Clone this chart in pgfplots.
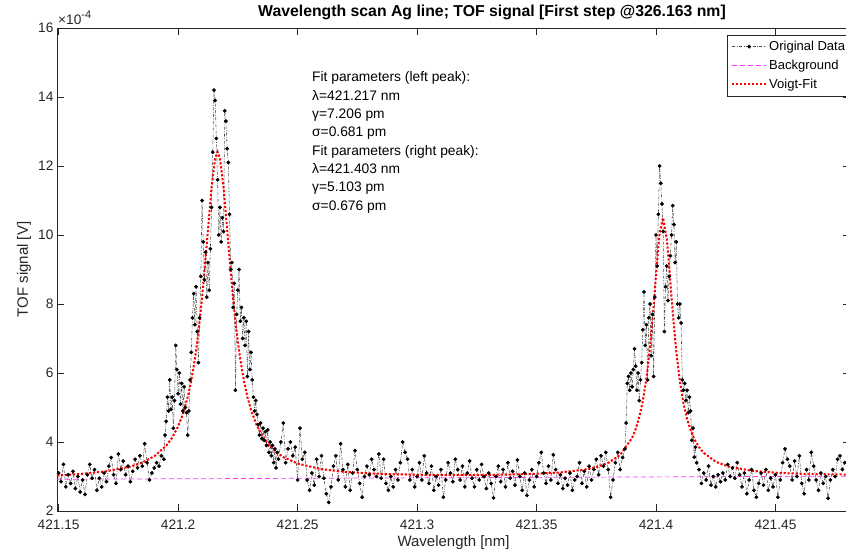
\documentclass[border=0pt]{standalone}
\usepackage{fontspec}
\setmainfont{Liberation Sans}
\usepackage{pgfplots}
\usepackage{pgfplotstable}
\pgfplotsset{compat=1.18}
\definecolor{axgray}{rgb}{0.15,0.15,0.15}
\definecolor{bgmag}{rgb}{1,0.2,1}

\pgfplotstableread{
x y
421.149 2.45
421.150 3.10
421.151 2.85
421.152 3.35
421.153 2.70
421.154 3.05
421.155 2.80
421.156 3.15
421.157 2.65
421.158 3.00
421.159 2.55
421.160 2.90
421.161 2.48
421.162 3.05
421.163 3.35
421.164 2.95
421.165 3.20
421.166 2.60
421.167 2.95
421.168 2.70
421.169 3.10
421.170 2.85
421.171 3.30
421.172 3.55
421.173 3.05
421.174 2.80
421.175 3.65
421.176 3.20
421.177 3.45
421.178 3.05
421.179 3.30
421.180 2.85
421.181 3.15
421.182 3.50
421.183 3.25
421.184 3.60
421.185 3.30
421.186 3.95
421.187 3.40
421.188 2.90
421.189 3.10
421.190 3.25
421.191 3.40
421.192 3.30
421.193 3.60
421.194 3.50
421.1945 4.20
421.1950 4.60
421.1955 5.30
421.1960 4.90
421.1965 5.80
421.1970 4.95
421.1975 5.30
421.1980 4.40
421.1985 5.20
421.1990 6.80
421.1995 6.10
421.2000 5.40
421.2005 6.00
421.2010 5.10
421.2015 5.70
421.2020 4.90
421.2025 5.60
421.2030 5.00
421.2035 4.85
421.2040 4.20
421.2045 4.90
421.2050 5.80
421.2055 6.60
421.2060 7.60
421.2065 8.30
421.2070 7.40
421.2075 8.50
421.2080 7.20
421.2085 6.30
421.2090 7.60
421.2095 8.80
421.2100 11.00
421.2105 9.80
421.2110 8.70
421.2115 9.50
421.2120 8.20
421.2125 9.20
421.2130 8.40
421.2135 9.60
421.2140 10.80
421.2145 12.40
421.2150 14.20
421.2155 13.90
421.2160 12.80
421.2165 11.60
421.2170 10.00
421.2175 10.80
421.2180 9.80
421.2185 10.50
421.2190 10.10
421.2195 13.60
421.2200 13.30
421.2205 12.50
421.2210 12.10
421.2215 10.60
421.2220 9.00
421.2225 9.20
421.2230 7.90
421.2235 8.60
421.2240 5.50
421.2245 7.70
421.2250 8.40
421.2255 9.00
421.2260 7.50
421.2265 7.90
421.2270 7.00
421.2275 7.60
421.2280 6.80
421.2285 7.50
421.2290 5.90
421.2295 7.20
421.2300 6.10
421.2305 6.60
421.2310 5.80
421.2315 5.30
421.2320 4.90
421.2325 5.20
421.2330 4.80
421.2335 4.50
421.2340 4.20
421.2345 4.55
421.2350 4.10
421.2355 4.40
421.2360 4.05
421.2365 4.30
421.2370 3.90
421.2375 4.35
421.2380 3.70
421.2385 4.00
421.2390 3.60
421.2395 3.90
421.2400 3.40
421.2405 3.80
421.2410 3.25
421.2415 3.70
421.2420 3.50
421.243 4.00
421.244 4.55
421.245 3.40
421.246 3.80
421.247 4.00
421.248 3.60
421.249 3.85
421.250 2.90
421.251 4.40
421.252 3.50
421.253 3.70
421.254 2.90
421.255 2.60
421.256 3.10
421.257 2.75
421.258 3.50
421.259 3.00
421.260 3.60
421.261 2.95
421.262 2.50
421.263 2.25
421.264 2.70
421.265 3.30
421.266 3.60
421.267 2.90
421.268 3.95
421.269 3.20
421.270 2.70
421.271 3.35
421.272 2.60
421.273 3.10
421.274 3.75
421.275 3.20
421.276 2.80
421.277 2.40
421.278 3.00
421.279 3.30
421.280 3.05
421.281 3.50
421.282 3.20
421.283 3.00
421.284 3.65
421.285 2.95
421.286 3.50
421.287 2.80
421.288 2.60
421.289 3.00
421.290 2.70
421.291 3.20
421.292 2.90
421.293 3.40
421.294 4.00
421.295 3.70
421.296 3.50
421.297 2.90
421.298 3.20
421.299 2.70
421.300 3.00
421.301 3.40
421.302 2.90
421.303 3.60
421.304 3.10
421.305 2.80
421.306 3.30
421.307 2.60
421.308 3.00
421.309 2.75
421.310 3.20
421.311 2.40
421.312 2.90
421.313 3.40
421.314 3.10
421.315 2.85
421.316 3.50
421.317 3.20
421.318 2.90
421.319 3.30
421.320 2.70
421.321 3.10
421.322 3.45
421.323 2.95
421.324 2.70
421.325 3.20
421.326 2.90
421.327 3.35
421.328 3.00
421.329 2.65
421.330 3.10
421.331 2.80
421.332 2.38
421.333 3.00
421.334 3.30
421.335 2.85
421.336 3.20
421.337 2.70
421.338 3.40
421.339 2.95
421.340 3.15
421.341 2.75
421.342 3.48
421.343 3.00
421.344 2.60
421.345 3.10
421.346 2.45
421.347 2.90
421.348 3.20
421.349 2.70
421.350 3.00
421.351 3.40
421.352 3.70
421.353 3.10
421.354 2.80
421.355 3.30
421.356 2.90
421.357 3.63
421.358 3.20
421.359 2.80
421.360 3.05
421.361 2.65
421.362 2.95
421.363 2.75
421.364 3.10
421.365 2.60
421.366 2.90
421.367 3.00
421.368 3.40
421.369 2.80
421.370 3.15
421.371 2.70
421.372 3.30
421.373 2.90
421.374 3.20
421.375 3.50
421.376 3.05
421.377 3.60
421.378 3.30
421.379 3.70
421.380 3.20
421.381 2.40
421.382 2.90
421.383 3.40
421.384 3.70
421.385 3.20
421.386 3.55
421.387 3.80
421.3875 4.55
421.3880 5.70
421.3885 5.90
421.3890 5.50
421.3895 6.00
421.3900 5.60
421.3905 6.10
421.3910 6.70
421.3915 6.20
421.3920 5.50
421.3925 6.00
421.3930 5.20
421.3935 5.80
421.3940 6.30
421.3945 7.25
421.3950 8.35
421.3955 6.80
421.3960 7.40
421.3965 5.80
421.3970 7.60
421.3975 8.00
421.3980 6.50
421.3985 7.70
421.3990 5.90
421.3995 8.20
421.4000 10.00
421.4005 9.10
421.4010 10.60
421.4015 12.00
421.4020 11.50
421.4025 10.90
421.4030 10.10
421.4035 7.20
421.4040 8.50
421.4045 9.10
421.4050 8.10
421.4055 8.80
421.4060 9.40
421.4065 10.00
421.4070 10.85
421.4075 10.30
421.4080 9.20
421.4085 9.80
421.4090 8.00
421.4095 7.60
421.4100 8.00
421.4105 7.45
421.4110 5.80
421.4115 5.50
421.4120 5.70
421.4125 5.20
421.4130 5.50
421.4135 4.85
421.4140 5.30
421.4145 4.90
421.4150 4.05
421.4155 4.40
421.4160 3.56
421.4165 3.85
421.4170 3.40
421.418 3.20
421.419 2.80
421.420 3.10
421.421 2.90
421.422 3.30
421.423 2.75
421.424 3.00
421.425 2.70
421.426 3.05
421.427 2.85
421.428 3.10
421.429 2.90
421.430 3.35
421.431 3.00
421.432 3.25
421.433 2.95
421.434 3.40
421.435 3.05
421.436 2.70
421.437 3.10
421.438 2.50
421.439 2.90
421.440 3.20
421.441 2.60
421.442 2.40
421.443 2.80
421.444 3.10
421.445 2.75
421.446 3.20
421.447 2.60
421.448 2.95
421.449 2.70
421.450 3.05
421.451 2.40
421.452 2.90
421.453 3.40
421.454 3.80
421.455 3.50
421.456 3.30
421.457 2.90
421.458 3.45
421.459 3.00
421.460 3.60
421.461 2.80
421.462 2.50
421.463 3.20
421.464 2.90
421.465 3.70
421.466 3.30
421.467 2.90
421.468 2.60
421.469 3.10
421.470 2.80
421.471 3.00
421.472 2.37
421.473 2.90
421.474 3.20
421.475 3.00
421.476 3.50
421.477 3.60
421.478 3.20
421.479 3.40
}\origdata

\pgfplotstableread{
x y
421.1493 3.030
421.16 3.078
421.17 3.152
421.18 3.287
421.185 3.404
421.19 3.586
421.195 3.891
421.1975 4.127
421.2 4.453
421.2018 4.77
421.204 5.30
421.2053 5.71
421.207 6.395
421.2085 7.18
421.21 8.159
421.212 9.75
421.214 11.39
421.2155 12.23
421.2165 12.41
421.2175 12.23
421.219 11.39
421.221 9.75
421.223 8.16
421.2245 7.18
421.226 6.40
421.2275 5.79
421.229 5.30
421.2305 4.93
421.233 4.466
421.236 4.09
421.238 3.907
421.241 3.71
421.244 3.562
421.25 3.375
421.26 3.213
421.27 3.134
421.28 3.09
421.29 3.065
421.3 3.052
421.31 3.045
421.32 3.044
421.33 3.048
421.34 3.059
421.35 3.080
421.36 3.118
421.37 3.198
421.375 3.27
421.38 3.396
421.385 3.627
421.39 4.12
421.3915 4.375
421.393 4.72
421.3945 5.195
421.396 5.85
421.3975 6.75
421.399 7.93
421.4 8.82
421.401 9.68
421.4015 10.03
421.4029 10.50
421.4045 9.90
421.405 9.52
421.4055 9.09
421.407 7.76
421.4085 6.62
421.41 5.75
421.4115 5.12
421.413 4.67
421.4145 4.34
421.416 4.09
421.418 3.85
421.42 3.683
421.425 3.427
421.43 3.296
421.44 3.166
421.45 3.11
421.46 3.08
421.47 3.066
421.4812 3.055
}\fitdata

\begin{document}
\begin{tikzpicture}
\useasboundingbox (-57pt,-42pt) rectangle (789pt,511pt);
\begin{axis}[
  at={(0pt,0pt)}, anchor=south west,
  scale only axis, width=793pt, height=483pt,
  xmin=421.1493, xmax=421.4812, ymin=2, ymax=16,
  xtick={421.15,421.2,421.25,421.3,421.35,421.4,421.45},
  xticklabels={421.15,421.2,421.25,421.3,421.35,421.4,421.45},
  ytick={2,4,6,8,10,12,14,16},
  yticklabels={2,4,6,8,10,12,14,16},
  tick align=inside, major tick length=7pt,
  axis line style={axgray, line width=0.6pt},
  tick style={axgray, line width=0.6pt},
  ticklabel style={font=\fontsize{13.7}{16}\selectfont, text=axgray},
  xticklabel style={yshift=-5pt},
  xlabel={Wavelength [nm]}, ylabel={TOF signal [V]},
  label style={font=\fontsize{15}{18}\selectfont, text=axgray},
  xlabel style={at={(axis description cs:0.5,-0.0663)}, anchor=center},
  ylabel style={at={(axis description cs:-0.0416,0.5)}, anchor=center},
  legend style={at={(0.8449,0.9855)}, anchor=north west,
    font=\fontsize{13}{15}\selectfont, draw=none,
    fill=white, inner xsep=4pt, inner ysep=4pt, row sep=4pt,
    cells={anchor=west}},
  legend image code/.code={\draw[mark repeat=2,mark phase=2,#1] plot coordinates {(0pt,0pt) (17pt,0pt) (34pt,0pt)};},
]
\addplot[color=black!70, draw=black!70, line width=0.55pt,
  dash pattern=on 3pt off 1.5pt on 0.8pt off 1.5pt,
  mark=*, mark size=1.6pt, mark options={solid, fill=black, draw=black}]
  table[x=x, y=y] {\origdata};
\addlegendentry{Original Data}
\addplot[color=bgmag, draw=bgmag, line width=0.7pt, dash pattern=on 5pt off 3pt,
  legend image code/.code={\draw[line width=0.7pt, dash pattern=on 5pt off 3pt, draw={rgb,1:red,1;green,0.2;blue,1}] (0pt,0pt) -- (34pt,0pt);}]
  coordinates {(421.1493,2.92) (421.4812,3.01)};
\addlegendentry{Background}
\addplot[color=red, draw=red, line width=2pt, dash pattern=on 2.2pt off 1.8pt]
  table[x=x, y=y] {\fitdata};
\addlegendentry{Voigt-Fit}
\end{axis}
\draw[axgray, line width=0.5pt] (670pt,415pt) rectangle (800pt,476pt);
\node[anchor=base, font=\bfseries\fontsize{15.8}{18}\selectfont] at (435pt,494pt)
  {Wavelength scan Ag line; TOF signal [First step @326.163 nm]};
\node[anchor=base west, font=\fontsize{13.7}{16}\selectfont, text=axgray, inner sep=0pt] at (1pt,486pt)
  {×10\raisebox{6pt}{\fontsize{11}{12}\selectfont -4}};
\begin{scope}[every node/.style={anchor=base west, inner sep=0pt, font=\fontsize{13.8}{16}\selectfont}]
\node at (255pt,429pt) {Fit parameters (left peak):};
\node at (255pt,410.7pt) {λ=421.217 nm};
\node at (255pt,392.4pt) {γ=7.206 pm};
\node at (255pt,374.1pt) {σ=0.681 pm};
\node at (255pt,355.8pt) {Fit parameters (right peak):};
\node at (255pt,337.5pt) {λ=421.403 nm};
\node at (255pt,319.2pt) {γ=5.103 pm};
\node at (255pt,300.9pt) {σ=0.676 pm};
\end{scope}
\end{tikzpicture}
\end{document}
